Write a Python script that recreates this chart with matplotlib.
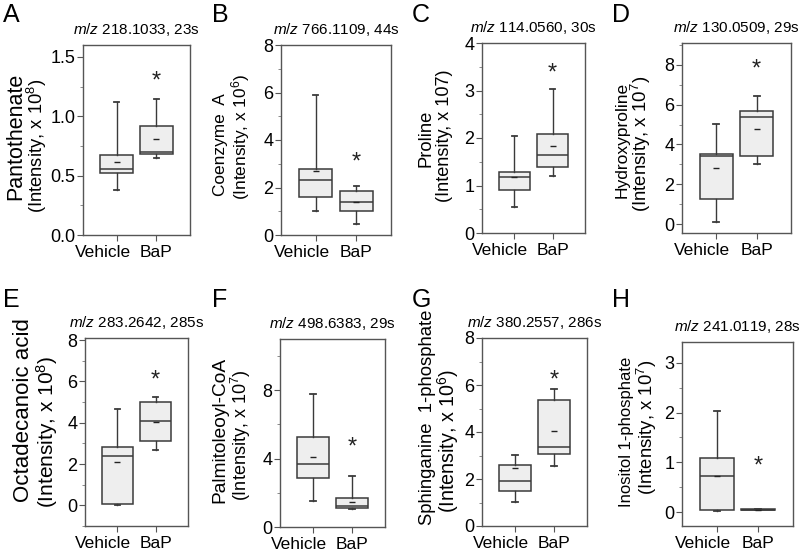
import matplotlib
matplotlib.use("Agg")
import matplotlib.pyplot as plt
from matplotlib.ticker import MultipleLocator, FormatStrFormatter
from matplotlib.transforms import ScaledTranslation

plt.rcParams['font.family'] = ['Liberation Sans', 'DejaVu Sans']
plt.rcParams['mathtext.fontset'] = 'custom'
plt.rcParams['mathtext.rm'] = 'Liberation Sans'
plt.rcParams['mathtext.it'] = 'Liberation Sans:italic'

groups = ["Vehicle", "BaP"]
letters = ["A", "B", "C", "D", "E", "F", "G", "H"]
titles = ["218.1033, 23s", "766.1109, 44s", "114.0560, 30s", "130.0509, 29s",
          "283.2642, 285s", "498.6383, 29s", "380.2557, 286s", "241.0119, 28s"]
names = ["Pantothenate", "Coenzyme  A", "Proline", "Hydroxyproline",
         "Octadecanoic acid", "Palmitoleoyl-CoA", "Sphinganine  1-phosphate", "Inositol 1-phosphate"]
units = ["(Intensity, x 10$^8$)", "(Intensity, x 10$^6$)", "(Intensity, x 107)", "(Intensity, x 10$^7$)",
         "(Intensity, x 10$^8$)", "(Intensity, x 10$^7$)", "(Intensity, x 10$^6$)", "(Intensity, x 10$^7$)"]

# [whislo, q1, med, q3, whishi, mean] for Vehicle, BaP
vehicle = [
    [0.378, 0.524, 0.56, 0.67, 1.116, 0.614],
    [1.02, 1.59, 2.32, 2.76, 5.88, 2.69],
    [0.55, 0.91, 1.17, 1.28, 2.04, 1.17],
    [0.10, 1.24, 3.44, 3.52, 5.02, 2.80],
    [0.0, 0.05, 2.38, 2.83, 4.66, 2.10],
    [1.52, 2.89, 3.67, 5.29, 7.77, 4.12],
    [1.01, 1.51, 1.92, 2.59, 3.03, 2.45],
    [0.03, 0.05, 0.72, 1.09, 2.03, 0.72],
]
bap = [
    [0.65, 0.678, 0.70, 0.922, 1.144, 0.807],
    [0.48, 0.99, 1.37, 1.87, 2.05, 1.37],
    [1.21, 1.40, 1.64, 2.08, 3.04, 1.83],
    [3.00, 3.44, 5.37, 5.69, 6.44, 4.77],
    [2.67, 3.10, 4.06, 4.98, 5.22, 4.02],
    [1.03, 1.10, 1.22, 1.70, 2.99, 1.46],
    [2.56, 3.07, 3.36, 5.37, 5.81, 4.06],
    [0.04, 0.045, 0.05, 0.055, 0.06, 0.05],
]
star_y = [1.29, 3.05, 3.36, 7.75, 6.02, 4.64, 6.2, 0.91]

ylims = [(0, 1.6), (0, 8), (0, 4), (-0.45, 9.1), (-1.0, 8.1), (0, 11), (0, 8), (-0.28, 3.42)]
major = [0.5, 2, 1, 2, 2, 4, 2, 1]
fmts = ["%.1f", "%d", "%d", "%d", "%d", "%d", "%d", "%d"]

# y-label lines: (x centre px, y centre px, font size) for name line and unit line
name_pos = [(16, 136, 15.5), (221, 145, 12.4), (426, 138, 13.2), (622, 140, 12.5),
            (24, 410, 16), (220, 430, 13.8), (428, 417, 13.3), (627, 432, 12)]
unit_pos = [(37, 146, 13.2), (241, 137, 12.4), (444, 136, 13.1), (641, 144, 13.4),
            (47, 432, 15), (241, 435, 13), (448, 441, 14.2), (647, 427, 13.3)]

# axes pixel boxes: left, right, top, bottom
boxes_px = [(83, 190, 45, 235), (281, 391, 45, 235), (482, 585, 43, 233), (682, 791, 43, 233),
            (85, 188, 338, 526), (280, 385, 339, 527), (482, 587, 338, 526), (682, 793, 342, 526)]
letter_px = [(3, 15), (212, 15), (412, 15), (612, 15), (3, 300), (212, 300), (412, 300), (612, 300)]

W, H = 800, 554
fig = plt.figure(figsize=(8, 5.54), dpi=100)
edge = "#3a3a3a"
face = "#eeeeee"

for i in range(8):
    l, r, t, b = boxes_px[i]
    ax = fig.add_axes([l / W, (H - b) / H, (r - l) / W, (b - t) / H])
    stats = []
    for g, d in zip(groups, [vehicle[i], bap[i]]):
        stats.append(dict(label=g, whislo=d[0], q1=d[1], med=d[2], q3=d[3], whishi=d[4], mean=d[5], fliers=[]))
    ax.bxp(stats, positions=[1, 2], widths=0.82, patch_artist=True, showmeans=True,
           boxprops=dict(facecolor=face, edgecolor=edge, linewidth=1.1),
           medianprops=dict(color=edge, linewidth=1.1),
           whiskerprops=dict(color=edge, linewidth=1.0),
           capprops=dict(color=edge, linewidth=1.3),
           capwidths=0.14,
           meanprops=dict(marker="_", markersize=4, markeredgecolor="#222222", markeredgewidth=1.0))
    ax.set_xlim(0.15, 2.85)
    ax.set_ylim(*ylims[i])
    ax.yaxis.set_major_locator(MultipleLocator(major[i]))
    ax.yaxis.set_minor_locator(MultipleLocator(major[i] / 2))
    ax.yaxis.set_major_formatter(FormatStrFormatter(fmts[i]))
    ax.tick_params(axis='y', which='major', direction='out', length=4, width=0.8, color="#555555",
                   labelsize=13, pad=1.5)
    ax.tick_params(axis='y', which='minor', direction='out', length=2, width=0.6, color="#777777")
    ax.tick_params(axis='x', direction='out', length=4, width=0.8, color="#555555", labelsize=12.5, pad=3)
    xl = ax.get_xticklabels()
    xl[0].set_transform(xl[0].get_transform() + ScaledTranslation(-0.14, 0, fig.dpi_scale_trans))
    for s in ax.spines.values():
        s.set_color("#555555")
        s.set_linewidth(1.0)
    for (px, py, fs), txt in ((name_pos[i], names[i]), (unit_pos[i], units[i])):
        fig.text(px / W, 1 - py / H, txt, rotation=90, fontsize=fs, ha="center", va="center",
                 rotation_mode="anchor")
    ax.set_title(r"$\mathit{m/z}$ " + titles[i], fontsize=11, pad=8)
    ax.text(2, star_y[i], "*", ha="center", va="center", fontsize=17, color="#222222")
    lx, ly = letter_px[i]
    fig.text(lx / W, 1 - ly / H, letters[i], fontsize=18, ha="left", va="center")

fig.savefig("out.png", dpi=100)
